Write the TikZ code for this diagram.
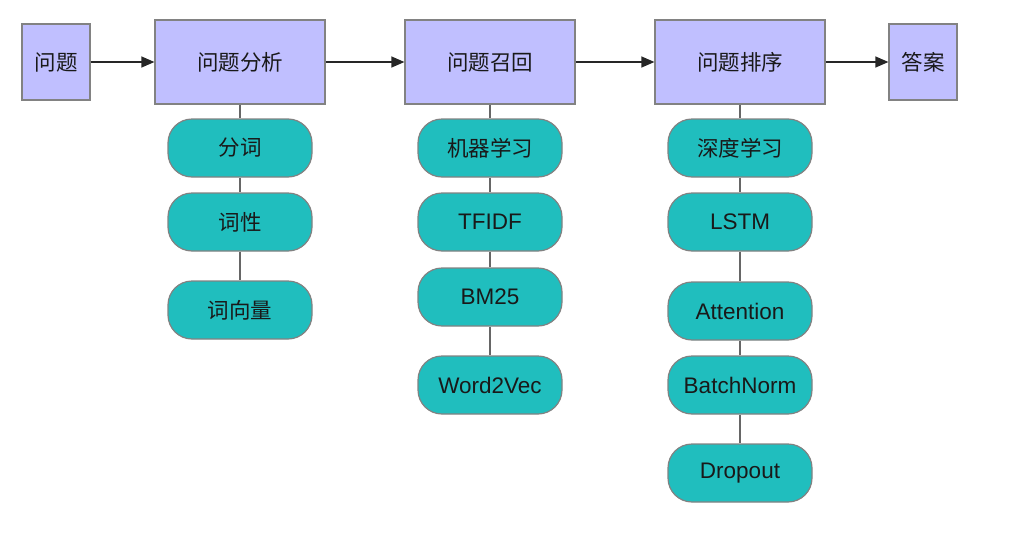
\documentclass[tikz,border=0pt]{standalone}
\usepackage{fontspec}
\setmainfont{Liberation Sans}
\newfontfamily\cjk{Noto Sans CJK SC}
\usetikzlibrary{positioning, arrows.meta}
\definecolor{stageblue}{RGB}{192,191,255}
\definecolor{stepteal}{RGB}{32,190,190}
\definecolor{edgegray}{RGB}{130,130,130}
\tikzset{
  >={Triangle[length=13pt,width=11pt]},
  stage/.style={draw=edgegray, fill=stageblue, line width=1.2pt, inner sep=0pt,
    minimum width=170pt, minimum height=84pt, text=black!90,
    font=\cjk\fontsize{21.5}{24}\selectfont},
  endpoint/.style={stage, minimum width=68pt, minimum height=76pt},
  method/.style={draw=edgegray, fill=stepteal, line width=1.2pt, inner sep=0pt,
    rounded corners=24pt, minimum width=144pt, minimum height=58pt,
    text=black!90, font=\fontsize{22.5}{26}\selectfont},
  cjkmethod/.style={method, font=\cjk\fontsize{21.5}{24}\selectfont},
  flow/.style={->, line width=1.2pt, black!85},
  link/.style={line width=1.2pt, black!60},
}
\begin{document}
\begin{tikzpicture}[x=1pt, y=1pt]
  \useasboundingbox (0,0) rectangle (1010,-533);

  % stages
  \node[endpoint] (q) at (56,-62) {问题};
  \node[stage, right=63.8pt of q] (ana) {问题分析};
  \node[stage, right=78.8pt of ana] (rec) {问题召回};
  \node[stage, right=78.8pt of rec] (rank) {问题排序};
  \node[endpoint, right=62.8pt of rank] (ans) {答案};

  % analysis methods
  \node[cjkmethod, below=13.8pt of ana] (seg) {分词};
  \node[cjkmethod, below=14.8pt of seg] (pos) {词性};
  \node[cjkmethod, below=28.8pt of pos] (vec) {词向量};

  % recall methods
  \node[cjkmethod, below=13.8pt of rec] (ml) {机器学习};
  \node[method, below=14.8pt of ml] (tfidf) {TFIDF};
  \node[method, below=15.8pt of tfidf] (bm) {BM25};
  \node[method, below=28.8pt of bm] (w2v) {Word2Vec};

  % ranking methods
  \node[cjkmethod, below=13.8pt of rank] (dl) {深度学习};
  \node[method, below=14.8pt of dl] (lstm) {LSTM};
  \node[method, below=29.8pt of lstm] (att) {Attention};
  \node[method, below=14.8pt of att] (bn) {BatchNorm};
  \node[method, below=28.8pt of bn] (drop) {Dropout};

  % flow
  \draw[flow] (q) -- (ana);
  \draw[flow] (ana) -- (rec);
  \draw[flow] (rec) -- (rank);
  \draw[flow] (rank) -- (ans);

  % links
  \draw[link] (ana) -- (seg) (seg) -- (pos) (pos) -- (vec);
  \draw[link] (rec) -- (ml) (ml) -- (tfidf) (tfidf) -- (bm) (bm) -- (w2v);
  \draw[link] (rank) -- (dl) (dl) -- (lstm) (lstm) -- (att) (att) -- (bn) (bn) -- (drop);
\end{tikzpicture}
\end{document}
